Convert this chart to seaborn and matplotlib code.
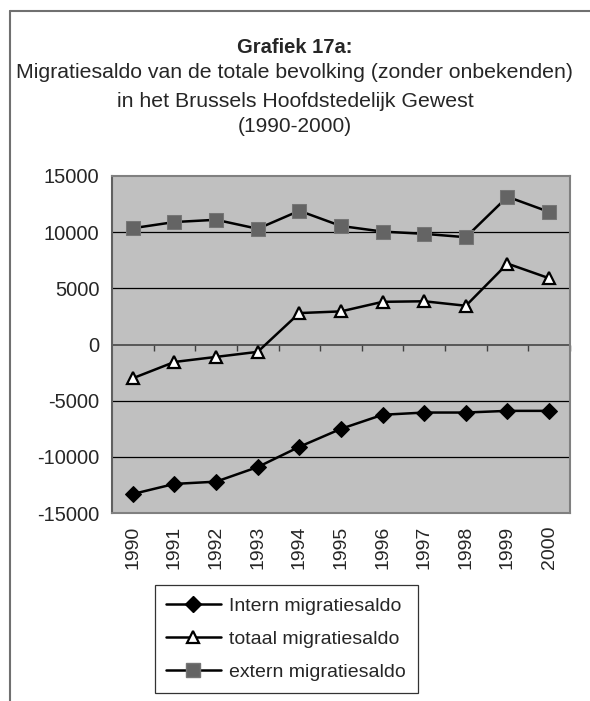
import numpy as np
import pandas as pd
import matplotlib
matplotlib.use('Agg')
import matplotlib.pyplot as plt
from matplotlib.lines import Line2D
import seaborn as sns

# values
years = [1990, 1991, 1992, 1993, 1994, 1995, 1996, 1997, 1998, 1999, 2000]
intern = [-13300, -12400, -12200, -10900, -9100, -7500, -6250, -6050, -6050, -5900, -5900]
totaal = [-3000, -1550, -1100, -650, 2800, 2950, 3800, 3850, 3450, 7200, 5900]
extern = [10350, 10900, 11100, 10300, 11900, 10550, 10050, 9850, 9550, 13150, 11800]
series_names = ['Intern migratiesaldo', 'totaal migratiesaldo', 'extern migratiesaldo']
yticks = [-15000, -10000, -5000, 0, 5000, 10000, 15000]

df = pd.DataFrame({'jaar': years * 3,
                   'saldo': intern + totaal + extern,
                   'reeks': np.repeat(series_names, len(years))})

sns.set_style('white')
plt.rcParams['font.family'] = ['Liberation Sans', 'DejaVu Sans']

fig = plt.figure(figsize=(5.9, 7.01), dpi=100)
ax = fig.add_axes([0.1898, 0.268, 0.7762, 0.481])
ax.set_facecolor('#c0c0c0')

styles = {
    'Intern migratiesaldo': dict(marker='D', markersize=8, markerfacecolor='black', markeredgecolor='black'),
    'totaal migratiesaldo': dict(marker='^', markersize=9, markerfacecolor='white', markeredgecolor='black', markeredgewidth=1.6),
    'extern migratiesaldo': dict(marker='s', markersize=10, markerfacecolor='#646464', markeredgecolor='#767676'),
}
for name in series_names:
    sns.lineplot(data=df[df['reeks'] == name], x='jaar', y='saldo', ax=ax, color='black',
                 linewidth=1.8, label=name, zorder=3, **styles[name])

ax.set_xlim(1989.5, 2000.5)
ax.set_ylim(-15000, 15000)
ax.set_yticks(yticks)
ax.set_yticklabels([str(v) for v in yticks])
for v in [-10000, -5000, 5000, 10000]:
    ax.axhline(v, color='black', linewidth=0.9, zorder=1)

ax.set_xticks(years)
ax.set_xticklabels([str(y) for y in years], rotation=90)
ax.tick_params(axis='x', length=0, pad=9, labelsize=14)
ax.tick_params(axis='y', length=4, width=1, color='#555555', direction='out', pad=5, labelsize=14.5)
ax.set_xlabel('')
ax.set_ylabel('')
for s in ax.spines.values():
    s.set_color('#808080')
    s.set_linewidth(1.5)
ax.spines['left'].set_color('#606060')

# horizontal category axis crossing at 0
zero = ax.secondary_xaxis(0, transform=ax.transData)
zero.set_xticks([y + 0.5 for y in years[:-1]] + [2000.5])
zero.set_xticklabels([])
zero.tick_params(length=4, width=1, color='#404040', direction='out')
zero.spines['bottom'].set_color('#505050')
zero.spines['bottom'].set_linewidth(1.3)

ax.get_legend().remove()
handles = [Line2D([], [], color='black', linewidth=1.8, **styles[n]) for n in series_names]
leg = fig.legend(handles, series_names, loc='upper left', bbox_to_anchor=(0.262, 0.165),
                 frameon=True, fancybox=False, edgecolor='black', fontsize=14,
                 handlelength=2.8, labelspacing=0.8, borderpad=0.6, handletextpad=0.45,
                 borderaxespad=0)
leg.get_frame().set_linewidth(0.9)

fig.text(0.5, 0.932, 'Grafiek 17a:', ha='center', va='center', fontsize=14.5, fontweight='bold')
fig.text(0.5, 0.896, 'Migratiesaldo van de totale bevolking (zonder onbekenden)', ha='center', va='center', fontsize=15.3)
fig.text(0.5, 0.855, 'in het Brussels Hoofdstedelijk Gewest', ha='center', va='center', fontsize=15.3)
fig.text(0.5, 0.820, '(1990-2000)', ha='center', va='center', fontsize=15)

# page frame (left and top edges)
fig.add_artist(Line2D([10 / 590, 10 / 590], [0, 1 - 11 / 701], color='#707070', linewidth=1.5))
fig.add_artist(Line2D([10 / 590, 1], [1 - 11 / 701, 1 - 11 / 701], color='#707070', linewidth=1.5))

fig.savefig('out.png', dpi=100)
